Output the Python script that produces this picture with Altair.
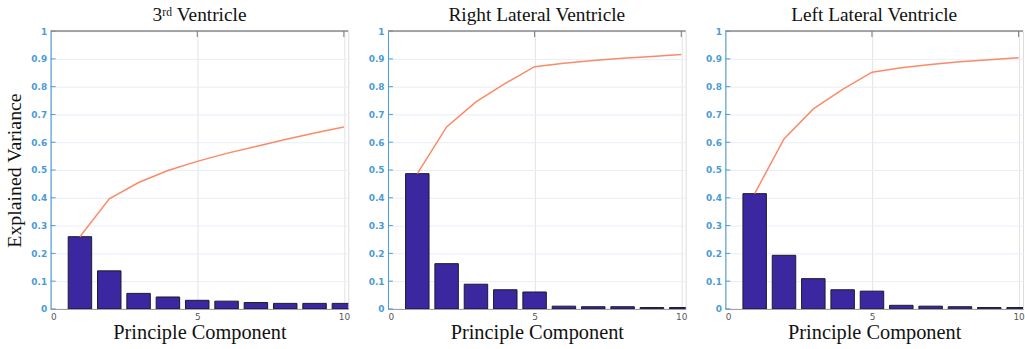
import altair as alt
import pandas as pd

components = [1, 2, 3, 4, 5, 6, 7, 8, 9, 10]

titles = ["3ʳᵈ Ventricle", "Right Lateral Ventricle", "Left Lateral Ventricle"]

third_bars = [0.260, 0.137, 0.056, 0.043, 0.031, 0.028, 0.023, 0.020, 0.020, 0.020]
third_cum = [0.260, 0.396, 0.455, 0.498, 0.531, 0.560, 0.585, 0.610, 0.633, 0.655]

right_bars = [0.487, 0.163, 0.089, 0.069, 0.061, 0.010, 0.008, 0.008, 0.005, 0.005]
right_cum = [0.487, 0.655, 0.745, 0.812, 0.872, 0.884, 0.894, 0.902, 0.909, 0.916]

left_bars = [0.415, 0.193, 0.109, 0.069, 0.064, 0.013, 0.010, 0.008, 0.005, 0.005]
left_cum = [0.415, 0.612, 0.720, 0.790, 0.852, 0.868, 0.880, 0.890, 0.897, 0.904]

y_ticks = [0, 0.1, 0.2, 0.3, 0.4, 0.5, 0.6, 0.7, 0.8, 0.9, 1.0]

BAR = "#3b27a0"
LINE = "#fb8a68"
BLUE = "#4a9bd6"
XDOM = [0, 10.15]


def panel(title, bars, cum, show_ytitle):
    df = pd.DataFrame({"pc": components, "var": bars, "cum": cum})
    xs = alt.Scale(domain=XDOM, nice=False, zero=False)
    ys = alt.Scale(domain=[0, 1], nice=False)
    xaxis = alt.Axis(values=[0, 5, 10], title="Principle Component", grid=True,
                     gridColor="#e3e3e3", domainColor="#9a9a9a", ticks=False,
                     labelColor="#555555", labelFont="DejaVu Sans", labelFontSize=9,
                     labelPadding=4, titleFont="Liberation Serif", titleFontSize=20.5,
                     titleFontWeight="normal", titleColor="#111111", titlePadding=1)
    yaxis = alt.Axis(values=y_ticks, format="~g", grid=True, gridColor="#e6eef8",
                     domainColor=BLUE, ticks=False, labelColor=BLUE,
                     labelFont="DejaVu Sans", labelFontSize=9, labelFontWeight="bold",
                     labelPadding=4, labelOverlap=False,
                     title="Explained Variance" if show_ytitle else "",
                     titleFont="Liberation Serif", titleFontSize=20,
                     titleFontWeight="normal", titleColor="#111111", titlePadding=6)
    base = alt.Chart(df)
    bars_l = base.transform_calculate(
        x0="datum.pc - 0.4", x1="datum.pc + 0.4"
    ).mark_bar(color=BAR, stroke="#1a1a2e", strokeWidth=1, clip=True).encode(
        x=alt.X("x0:Q", scale=xs, axis=xaxis),
        x2="x1:Q",
        y=alt.Y("var:Q", scale=ys, axis=yaxis),
        y2=alt.datum(0),
    )
    line_l = base.mark_line(color=LINE, strokeWidth=1.5, clip=True).encode(
        x=alt.X("pc:Q", scale=xs, axis=xaxis),
        y=alt.Y("cum:Q", scale=ys, axis=yaxis),
    )
    tdf = pd.DataFrame({"t": y_ticks})
    ticks_l = alt.Chart(tdf).mark_rule(color=BLUE, strokeWidth=1).encode(
        y=alt.Y("t:Q", scale=ys, axis=yaxis),
        x=alt.value(0),
        x2=alt.value(5),
    )
    top_l = alt.Chart(pd.DataFrame({"t": [1.0]})).mark_rule(
        color="#8a8a8a", strokeWidth=1.5).encode(
        y=alt.Y("t:Q", scale=ys, axis=yaxis),
        x=alt.value(0),
        x2=alt.value(300),
    )
    xt = pd.DataFrame({"t": [5, 10]})
    xticks_l = alt.Chart(xt).mark_rule(color="#777777", strokeWidth=1).encode(
        x=alt.X("t:Q", scale=xs, axis=xaxis),
        y=alt.value(0),
        y2=alt.value(6),
    )
    return alt.layer(bars_l, ticks_l, top_l, xticks_l, line_l).properties(
        width=300, height=280,
        title=alt.TitleParams(title, font="Liberation Serif", fontSize=19.5,
                              fontWeight="normal", color="#111111", offset=2),
    )


chart = alt.hconcat(
    panel(titles[0], third_bars, third_cum, True),
    panel(titles[1], right_bars, right_cum, False),
    panel(titles[2], left_bars, left_cum, False),
    spacing=17,
).properties(
    padding={"left": 4, "top": 3, "right": 0, "bottom": 0},
).configure_view(stroke=None).configure(background="white")

chart.save("out.html", embed_options={"renderer": "svg", "actions": False})
